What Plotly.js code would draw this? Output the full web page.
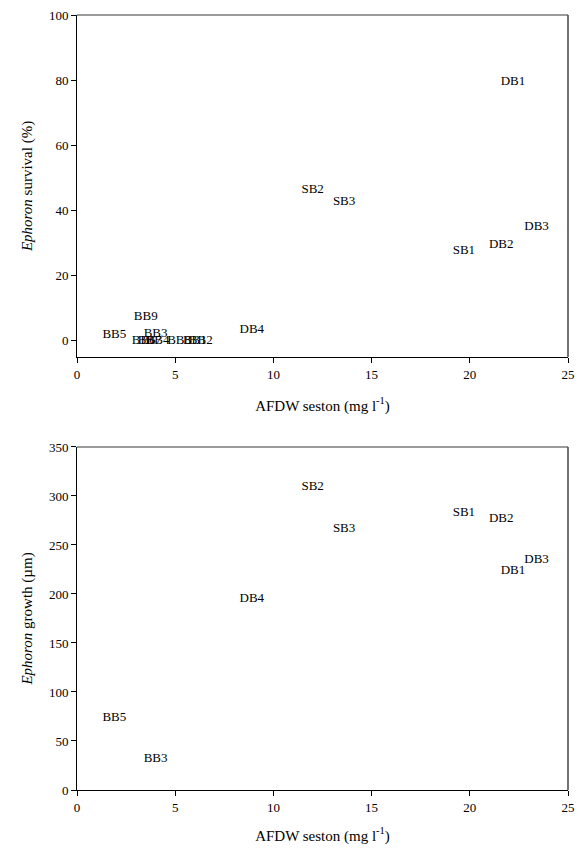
<!DOCTYPE html>
<html>
<head>
<meta charset="utf-8">
<script src="https://cdn.plot.ly/plotly-3.0.1.min.js"></script>
<style>html,body{margin:0;padding:0;background:#fff;}#chart{width:585px;height:851px;}</style>
</head>
<body>
<div id="chart"></div>
<script>
// Top panel: Ephoron survival (%) vs AFDW seston
const survivalSites = ["DB1","SB2","SB3","SB1","DB2","DB3","DB4","BB9","BB5","BB3","BB6","BB7","BB4","BB8","BB1","BB2"];
const survivalSeston = [22.2, 12.0, 13.6, 19.7, 21.6, 23.4, 8.9, 3.5, 1.9, 4.0, 3.4, 3.7, 4.1, 5.2, 6.0, 6.3];
const survivalValues = [79.5, 46.3, 42.6, 27.5, 29.6, 35.0, 3.4, 7.3, 1.8, 2.0, 0, 0, 0, 0, 0, 0];

// Bottom panel: Ephoron growth (µm) vs AFDW seston
const growthSites = ["SB2","SB3","SB1","DB2","DB3","DB1","DB4","BB5","BB3"];
const growthSeston = [12.0, 13.6, 19.7, 21.6, 23.4, 22.2, 8.9, 1.9, 4.0];
const growthValues = [309, 267, 283, 277, 235, 224, 195, 73.5, 31.6];

const xTicks = [0, 5, 10, 15, 20, 25];
const survivalTicks = [0, 20, 40, 60, 80, 100];
const growthTicks = [0, 50, 100, 150, 200, 250, 300, 350];

const serif = "Liberation Serif";
const labelFont = {family: serif, size: 13, color: "#000"};
const tickFont = {family: serif, size: 13, color: "#000"};
const titleFont = {family: serif, size: 15, color: "#000"};

const traces = [
  {x: survivalSeston, y: survivalValues, text: survivalSites, mode: "text", type: "scatter",
   textposition: "middle center", textfont: labelFont, cliponaxis: false, xaxis: "x", yaxis: "y", hoverinfo: "skip"},
  {x: growthSeston, y: growthValues, text: growthSites, mode: "text", type: "scatter",
   textposition: "middle center", textfont: labelFont, cliponaxis: false, xaxis: "x2", yaxis: "y2", hoverinfo: "skip"}
];

const baseAxis = {showgrid: false, zeroline: false, showline: true, linecolor: "#000", linewidth: 1,
  ticks: "outside", ticklen: 5, tickcolor: "#000", tickwidth: 1, tickfont: tickFont, fixedrange: true};

const xTitle = "AFDW seston (mg l<sup>-1</sup>)";

const layout = {
  width: 585, height: 851,
  margin: {l: 77, r: 17, t: 15, b: 61},
  font: {family: serif, color: "#000"},
  paper_bgcolor: "#fff", plot_bgcolor: "#fff",
  showlegend: false,
  xaxis: Object.assign({}, baseAxis, {domain: [0, 1], range: [0, 25], tickvals: xTicks, anchor: "y",
    title: {text: xTitle, font: titleFont, standoff: 19}}),
  yaxis: Object.assign({}, baseAxis, {domain: [0.5587, 1], range: [-5, 100], tickvals: survivalTicks, anchor: "x",
    title: {text: "<i>Ephoron</i> survival (%)", font: titleFont, standoff: 12}}),
  xaxis2: Object.assign({}, baseAxis, {domain: [0, 1], range: [0, 25], tickvals: xTicks, anchor: "y2",
    title: {text: xTitle, font: titleFont, standoff: 16}}),
  yaxis2: Object.assign({}, baseAxis, {domain: [0, 0.4426], range: [0, 350], tickvals: growthTicks, anchor: "x2",
    title: {text: "<i>Ephoron</i> growth (µm)", font: titleFont, standoff: 12}}),
  shapes: [
    {type: "line", xref: "x domain", yref: "y domain", x0: 0, x1: 1, y0: 1, y1: 1, line: {color: "#7a7a7a", width: 1.5}},
    {type: "line", xref: "x domain", yref: "y domain", x0: 1, x1: 1, y0: 0, y1: 1, line: {color: "#444", width: 1.5}},
    {type: "line", xref: "x2 domain", yref: "y2 domain", x0: 0, x1: 1, y0: 1, y1: 1, line: {color: "#7a7a7a", width: 1.5}},
    {type: "line", xref: "x2 domain", yref: "y2 domain", x0: 1, x1: 1, y0: 0, y1: 1, line: {color: "#444", width: 1.5}}
  ]
};

Plotly.newPlot("chart", traces, layout, {staticPlot: true, displayModeBar: false});
</script>
</body>
</html>
